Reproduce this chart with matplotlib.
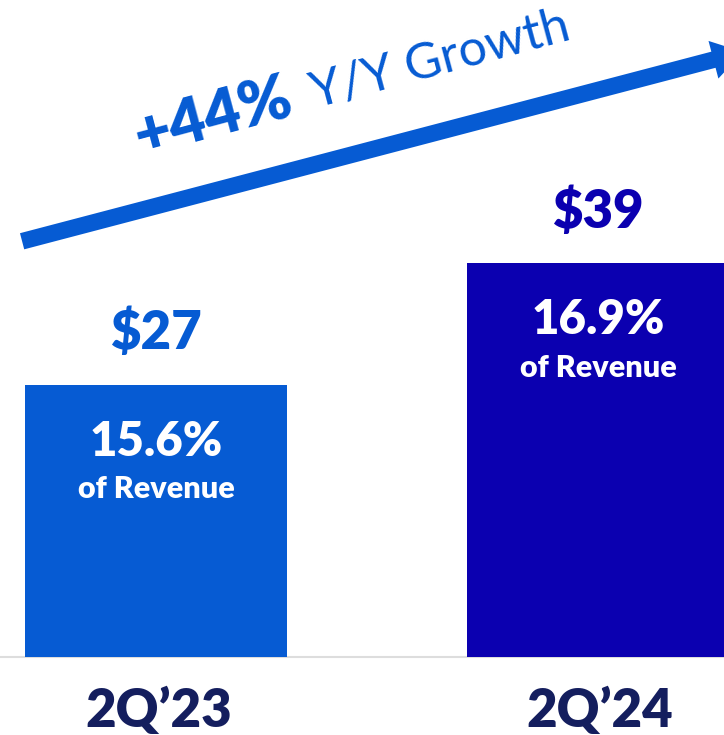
import matplotlib
matplotlib.use("Agg")
import matplotlib.pyplot as plt

# data
quarters = ["2Q’23", "2Q’24"]
spend = [27, 39]
pct_of_revenue = [15.6, 16.9]
growth_pct = 44

bar_colors = ["#065BD3", "#0B00B0"]
navy = "#141E5E"
arrow_blue = "#065BD3"

plt.rcParams["font.family"] = ["Lato", "DejaVu Sans"]

fig = plt.figure(figsize=(7.24, 7.35), dpi=100)
ax = fig.add_axes([0, 0, 1, 1])
ax.set_xlim(-0.353, 1.285)
ax.set_ylim(-7.73, 65.11)
ax.axis("off")

x = range(len(quarters))
ax.bar(x, spend, width=0.593, color=bar_colors, zorder=2)
ax.axhline(0, color="#DDDDDD", lw=1.5, zorder=1)

for i, (v, p, q) in enumerate(zip(spend, pct_of_revenue, quarters)):
    ax.text(i, v + 5.1, f"${v}", ha="center", va="center", fontsize=38,
            fontweight="heavy", color=bar_colors[i])
    ax.text(i, v - 5.65, f"{p}%", ha="center", va="center", fontsize=34,
            fontweight="heavy", color="white", zorder=3)
    ax.text(i, v - 10.35, "of Revenue", ha="center", va="center", fontsize=22,
            fontweight="heavy", color="white", zorder=3)
    ax.text(i + 0.005, -5.4, q, ha="center", va="center", fontsize=38,
            fontweight="heavy", color=navy)

# growth arrow
ax.annotate("", xy=(1.328, 59.96), xytext=(-0.303, 41.2), annotation_clip=False,
            arrowprops=dict(arrowstyle="simple,head_length=1.1,head_width=1.4,tail_width=0.6",
                            color=arrow_blue, lw=0, mutation_scale=20,
                            shrinkA=0, shrinkB=0))
ax.text(-0.036, 49.6, f"+{growth_pct}%", rotation=15, rotation_mode="anchor",
        ha="left", va="baseline", fontsize=45, fontweight="heavy", color=arrow_blue)
ax.text(0.36, 54.4, "Y/Y Growth", rotation=15, rotation_mode="anchor",
        ha="left", va="baseline", fontsize=36, color=arrow_blue)

fig.savefig("out.png", dpi=100)
